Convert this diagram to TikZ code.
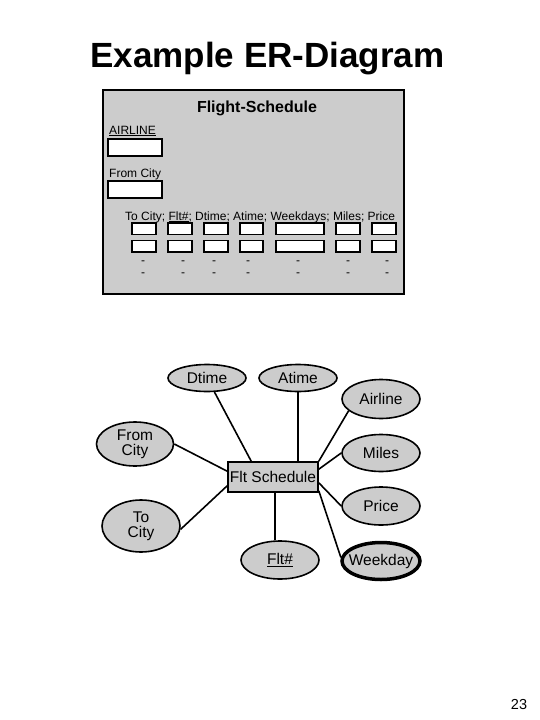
\documentclass[tikz,border=0pt]{standalone}
\usepackage{fontspec}
\setmainfont{Liberation Sans}
\usetikzlibrary{shapes.geometric}
\definecolor{bggray}{RGB}{204,204,204}
\begin{document}
\begin{tikzpicture}[x=1pt,y=-1pt,
  attr/.style={ellipse,draw,line width=1.6pt,fill=bggray,inner xsep=-6pt,inner ysep=0pt,
    minimum width=78pt,font=\fontsize{15.5}{15}\selectfont,align=center},
  conn/.style={line width=1.6pt},
  cell/.style={draw,fill=white,line width=1.5pt,inner sep=0pt},
  small/.style={font=\fontsize{12}{14}\selectfont,inner sep=0pt},
]
\useasboundingbox (0,0) rectangle (540,720);

% title
\node[font=\fontsize{35}{40}\selectfont\bfseries,anchor=base,inner sep=0pt] (title) at (267.5,67) {Example ER-Diagram};

% table frame
\node[draw,fill=bggray,line width=1.5pt,minimum width=301pt,minimum height=204pt,inner sep=0pt] (frame) at (253.5,192) {};
\node[font=\fontsize{16}{18}\selectfont\bfseries,anchor=base,inner sep=0pt] (fs) at (257,112) {Flight-Schedule};
\node[small,anchor=base west] (airlbl) at (109,134) {\underline{AIRLINE}};
\node[cell,minimum width=54pt,minimum height=17pt] (airbox) at (135,147.5) {};
\node[small,anchor=base west] (fromlbl) at (109,177) {From City};
\node[cell,minimum width=54pt,minimum height=17pt] (frombox) at (135,189.5) {};
\node[small,anchor=base west] (rowlbl) at (125,220) {To City; \underline{Flt\#}; Dtime; Atime; Weekdays; Miles; Price};

\foreach \a/\b [count=\i] in {132/156,168/192,204/228,240/263,276/324,336/360,372/396}{
  \node[cell,minimum width={(\b-\a)*1pt},minimum height=11.5pt] (ra\i) at ({(\a+\b)/2},228.5) {};
  \node[cell,minimum width={(\b-\a)*1pt},minimum height=11.5pt] (rb\i) at ({(\a+\b)/2},246) {};
}
\foreach \x [count=\i] in {143,183,214,248,298,348,387}{
  \node[small] (da\i) at (\x,263) {-};
  \node[small] (db\i) at (\x,275) {-};
}

% ER diagram
\node[attr,minimum height=27pt] (dtime) at (207,378) {Dtime};
\node[attr,minimum height=27pt] (atime) at (298,378) {Atime};
\node[attr,minimum height=39pt] (airline) at (381,399) {Airline};
\node[attr,minimum height=37pt] (miles) at (381,453) {Miles};
\node[attr,minimum height=38pt] (price) at (381,506) {Price};
\node[attr,minimum height=37pt,line width=3.5pt] (weekday) at (381,561) {Weekday};
\node[attr,minimum width=77pt,minimum height=44pt] (fromcity) at (135,444) {From\\City};
\node[attr,minimum height=52pt] (tocity) at (141,526) {To\\City};
\node[attr,minimum height=38pt] (fltno) at (280,560) {\underline{Flt\#}};
\node[rectangle,draw,fill=bggray,line width=1.6pt,minimum width=90pt,minimum height=30pt,
  inner sep=0pt,font=\fontsize{15.5}{15}\selectfont] (flt) at (273,477) {Flt Schedule};

\draw[conn] (dtime) -- ([xshift=24pt]flt.north west);
\draw[conn] (atime.south) -- (atime.south |- flt.north);
\draw[conn] (airline.200) -- (flt.north east);
\draw[conn] (miles.west) -- ([yshift=-8pt]flt.north east);
\draw[conn] (price.west) -- ([yshift=10pt]flt.south east);
\draw[conn] (weekday.175) -- ([yshift=2pt]flt.south east);
\draw[conn] ([xshift=48pt]flt.south west) coordinate (fb) -- (fb |- fltno.north);
\draw[conn] (fromcity.east) -- ([yshift=-10pt]flt.north west);
\draw[conn] (tocity.-5) -- ([yshift=7pt]flt.south west);

\node[font=\fontsize{14.5}{16}\selectfont,anchor=base,inner sep=0pt] (pg) at (519,709) {23};
\end{tikzpicture}
\end{document}
